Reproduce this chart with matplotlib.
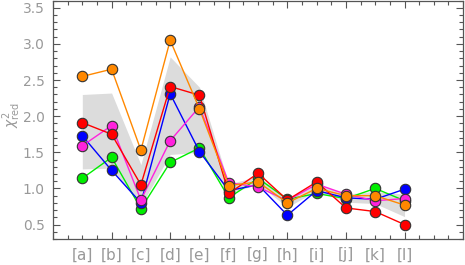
import matplotlib
matplotlib.use("Agg")
import matplotlib.pyplot as plt
import matplotlib.transforms as mtransforms
from matplotlib.ticker import MultipleLocator, FormatStrFormatter

labels = ["[a]", "[b]", "[c]", "[d]", "[e]", "[f]", "[g]", "[h]", "[i]", "[j]", "[k]", "[l]"]

green = [1.14, 1.43, 0.72, 1.36, 1.56, 0.87, 1.14, 0.85, 0.93, 0.86, 1.00, 0.83]
blue = [1.73, 1.25, 0.80, 2.31, 1.51, 0.97, 1.05, 0.63, 0.97, 0.87, 0.85, 0.99]
magenta = [1.59, 1.87, 0.84, 1.66, 2.13, 1.08, 1.02, 0.83, 1.06, 0.92, 0.83, 0.86]
red = [1.91, 1.75, 1.05, 2.41, 2.29, 0.93, 1.21, 0.84, 1.09, 0.73, 0.68, 0.50]
orange = [2.55, 2.65, 1.53, 3.05, 2.10, 1.04, 1.09, 0.80, 1.00, 0.90, 0.90, 0.77]

band_hi = [2.30, 2.32, 1.33, 2.82, 2.40, 1.06, 1.17, 0.86, 1.07, 0.92, 0.96, 0.92]
band_lo = [1.27, 1.28, 0.76, 1.47, 1.50, 0.93, 1.06, 0.74, 0.97, 0.81, 0.79, 0.61]

series = [
    (green, "#00ee00"),
    (blue, "#0000ff"),
    (magenta, "#ff22dd"),
    (red, "#ff0000"),
    (orange, "#ff8800"),
]

xs = list(range(1, len(labels) + 1))
grey = "#999999"

fig = plt.figure(figsize=(4.65, 2.65), dpi=100)
ax = fig.add_axes([0.114, 0.098, 0.882, 0.9])

ax.fill_between(xs, band_lo, band_hi, color="#dcdcdc", lw=0, zorder=1)

for ys, col in series:
    ax.plot(xs, ys, color=col, lw=1, marker="o", ms=7.5,
            markerfacecolor=col, markeredgecolor="#333333", markeredgewidth=0.8, zorder=3)

ax.set_xlim(0, 14)
ax.set_ylim(0.3, 3.6)
ax.xaxis.set_major_locator(MultipleLocator(2))
ax.xaxis.set_minor_locator(MultipleLocator(0.5))
ax.yaxis.set_major_locator(MultipleLocator(0.5))
ax.yaxis.set_minor_locator(MultipleLocator(0.1))
ax.set_xticklabels([])
ax.tick_params(which="both", direction="in", top=True, right=True, color="#555555",
               labelcolor=grey, labelsize=10, width=0.8)
ax.tick_params(which="major", length=5, pad=6)
ax.tick_params(which="minor", length=3)
ax.yaxis.set_major_formatter(FormatStrFormatter("%.1f"))
for s in ax.spines.values():
    s.set_color("#555555")
    s.set_linewidth(0.9)

trans = mtransforms.blended_transform_factory(ax.transData, ax.transAxes)
for x, lab in zip(xs, labels):
    ax.text(x, -0.035, lab, transform=trans, ha="center", va="top",
            color=grey, fontsize=11)

fig.text(12 / 465, 1 - 115 / 265, r"$\chi^2_{\rm red}$", rotation=90,
         ha="center", va="center", color=grey, fontsize=10)

fig.savefig("out.png", dpi=100)
